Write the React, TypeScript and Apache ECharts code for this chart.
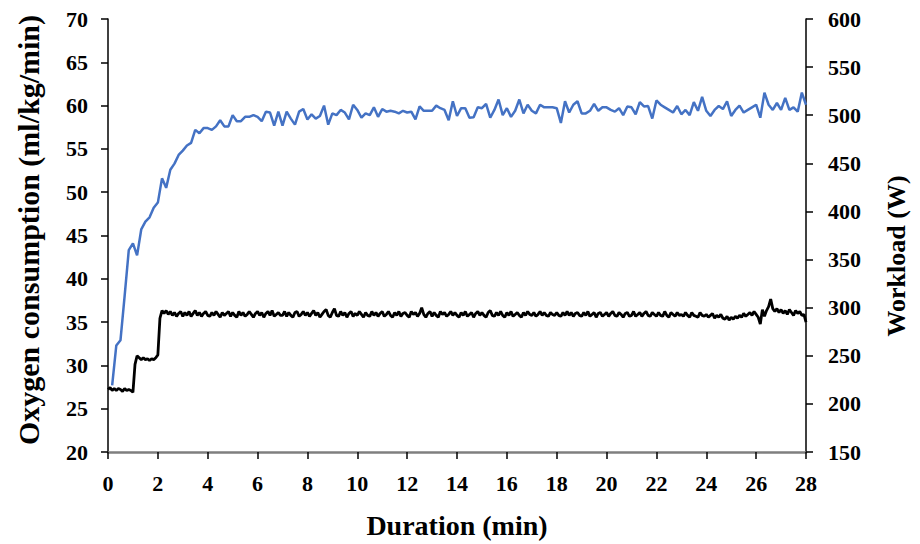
import React, { useEffect, useRef } from "react";
import * as echarts from "echarts";

// Oxygen consumption (ml/kg/min), one sample every 10 s starting at 10 s
const O2_STEP_SEC = 10;
const oxygen = [
  27.7, 32.3, 32.9, 38.0, 43.3, 44.1, 42.7, 45.7, 46.6, 47.1, 48.2, 48.8,
  51.6, 50.5, 52.6, 53.3, 54.3, 54.8, 55.4, 55.7, 57.2, 56.8, 57.4, 57.4,
  57.2, 57.6, 58.3, 57.6, 57.6, 58.9, 58.2, 58.2, 58.7, 58.7, 58.9, 58.7,
  58.2, 59.3, 59.2, 57.7, 59.3, 57.7, 59.3, 58.5, 57.8, 59.3, 59.6, 58.4,
  59.0, 58.5, 58.8, 60.0, 57.8, 59.1, 58.9, 59.5, 59.2, 58.4, 60.1, 59.5,
  58.6, 59.1, 58.9, 59.8, 58.7, 59.6, 59.3, 59.4, 59.3, 59.1, 59.4, 59.2,
  59.3, 58.4, 59.9, 59.4, 59.4, 59.4, 60.0, 59.7, 59.5, 58.3, 60.5, 58.8,
  59.7, 59.7, 58.6, 58.65, 59.8, 59.7, 60.2, 58.6, 59.5, 60.7, 58.9, 59.7,
  58.7, 59.4, 60.7, 59.1, 60.1, 59.4, 59.1, 60.1, 59.8, 59.8, 59.8, 59.7,
  58.0, 60.5, 59.2, 60.1, 60.5, 59.1, 59.1, 59.4, 60.2, 59.4, 59.8, 59.8,
  59.5, 59.3, 59.7, 58.9, 59.9, 59.8, 59.0, 60.4, 59.9, 59.95, 58.5, 60.6,
  60.1, 59.8, 59.5, 59.2, 59.95, 59.0, 59.5, 58.9, 60.4, 59.4, 61.0, 59.4,
  58.8, 59.5, 59.95, 59.6, 60.5, 58.8, 59.5, 60.0, 59.2, 59.5, 59.8, 60.1,
  58.6, 61.5, 60.1, 59.5, 60.3, 59.5, 60.9, 59.5, 59.8, 59.3, 61.5, 60.1,
];

// Workload (W), one sample every 5 s starting at 0 s (12 samples per row = 1 min)
const WORK_STEP_SEC = 5;
const workload = [
  215, 217, 214, 216, 214, 216, 215, 213, 216, 214, 215, 214,
  212, 241, 250, 248, 246, 248, 246, 247, 245, 247, 246, 248,
  251, 289, 297, 294, 297, 293, 296, 292, 295, 291, 294, 296,
  291, 295, 292, 296, 291, 294, 297, 292, 295, 291, 294, 296,
  292, 291, 295, 292, 296, 293, 290, 295, 292, 294, 296, 291,
  295, 292, 290, 296, 292, 295, 291, 293, 296, 293, 290, 294,
  296, 292, 295, 290, 294, 296, 292, 297, 291, 293, 295, 292,
  292, 296, 291, 295, 292, 290, 295, 296, 291, 293, 296, 292,
  295, 291, 294, 297, 292, 295, 290, 293, 296, 298, 292, 290,
  295, 299, 292, 291, 296, 292, 295, 290, 294, 296, 291, 294,
  292, 296, 293, 290, 295, 292, 291, 296, 292, 295, 291, 294,
  296, 291, 293, 296, 292, 290, 295, 292, 296, 291, 294, 295,
  292, 290, 296, 293, 295, 291, 294, 300, 293, 290, 294, 296,
  291, 295, 292, 290, 296, 293, 295, 291, 293, 296, 292, 295,
  292, 290, 295, 292, 296, 291, 293, 295, 290, 294, 296, 292,
  295, 292, 290, 295, 297, 292, 291, 295, 292, 296, 292, 290,
  295, 292, 296, 291, 293, 295, 292, 290, 295, 292, 296, 293,
  292, 295, 291, 293, 296, 292, 295, 292, 291, 295, 293, 292,
  295, 292, 291, 295, 292, 296, 292, 295, 291, 294, 295, 292,
  291, 295, 292, 296, 291, 293, 295, 290, 294, 295, 291, 293,
  295, 291, 294, 296, 292, 291, 295, 293, 290, 294, 295, 291,
  292, 296, 291, 293, 295, 291, 294, 296, 292, 291, 295, 293,
  291, 295, 292, 291, 296, 292, 290, 295, 293, 291, 295, 292,
  293, 291, 295, 292, 290, 295, 292, 291, 290, 295, 292, 291,
  293, 290, 292, 294, 289, 292, 290, 293, 289, 288, 291, 287,
  290, 288, 291, 289, 292, 290, 294, 291, 293, 295, 292, 296,
  293, 290, 283, 298, 291, 297, 301, 309, 299, 296, 299, 295,
  298, 294, 297, 293, 298, 295, 292, 297, 294, 296, 292, 293,
  285,
];

const xTicks = { min: 0, max: 28, interval: 2 };
const leftTicks = { min: 20, max: 70, interval: 5 };
const rightTicks = { min: 150, max: 600, interval: 50 };

const FONT = "'Liberation Serif', 'Times New Roman', serif";

export default function App() {
  const ref = useRef<HTMLDivElement>(null);

  useEffect(() => {
    if (!ref.current) return;
    document.body.style.margin = "0";
    const chart = echarts.init(ref.current, null, { renderer: "svg", width: 920, height: 544 });

    const o2Data = oxygen.map((v, i) => [((i + 1) * O2_STEP_SEC) / 60, v]);
    const wData = workload.map((v, i) => [(i * WORK_STEP_SEC) / 60, v]);

    const labelStyle = {
      color: "#000",
      fontFamily: FONT,
      fontWeight: "bold" as const,
      fontSize: 22,
    };

    chart.setOption({
      animation: false,
      backgroundColor: "#fff",
      grid: { left: 108, right: 114, top: 19, bottom: 77, containLabel: false },
      xAxis: {
        type: "value",
        min: xTicks.min,
        max: xTicks.max,
        interval: xTicks.interval,
        name: "Duration (min)",
        nameLocation: "middle",
        nameGap: 59,
        nameTextStyle: { ...labelStyle, fontSize: 28 },
        axisLine: { show: true, lineStyle: { color: "#7f7f7f", width: 2.5 } },
        axisTick: { show: true, length: 7, lineStyle: { color: "#000", width: 1.5 } },
        axisLabel: { ...labelStyle, margin: 20 },
        splitLine: { show: false },
      },
      yAxis: [
        {
          type: "value",
          min: leftTicks.min,
          max: leftTicks.max,
          interval: leftTicks.interval,
          position: "left",
          axisLine: { show: true, lineStyle: { color: "#000", width: 1.5 } },
          axisTick: { show: true, length: 7, lineStyle: { color: "#000", width: 1.5 } },
          axisLabel: { ...labelStyle, margin: 20 },
          splitLine: { show: false },
        },
        {
          type: "value",
          min: rightTicks.min,
          max: rightTicks.max,
          interval: rightTicks.interval,
          position: "right",
          axisLine: { show: true, lineStyle: { color: "#000", width: 1.5 } },
          axisTick: { show: true, length: 7, lineStyle: { color: "#000", width: 1.5 } },
          axisLabel: { ...labelStyle, margin: 22 },
          splitLine: { show: false },
        },
      ],
      graphic: [
        {
          type: "text",
          x: 28,
          y: 230,
          rotation: Math.PI / 2,
          style: {
            text: "Oxygen consumption (ml/kg/min)",
            fill: "#000",
            font: `bold 30px ${FONT}`,
            textAlign: "center",
            textVerticalAlign: "middle",
          },
        },
        {
          type: "text",
          x: 896,
          y: 256,
          rotation: Math.PI / 2,
          style: {
            text: "Workload (W)",
            fill: "#000",
            font: `bold 26px ${FONT}`,
            textAlign: "center",
            textVerticalAlign: "middle",
          },
        },
      ],
      series: [
        {
          name: "Workload",
          type: "line",
          yAxisIndex: 1,
          data: wData,
          showSymbol: false,
          symbol: "none",
          lineStyle: { color: "#000", width: 2.8 },
          z: 2,
        },
        {
          name: "Oxygen consumption",
          type: "line",
          yAxisIndex: 0,
          data: o2Data,
          showSymbol: false,
          symbol: "none",
          lineStyle: { color: "#4472C4", width: 2.5 },
          z: 3,
        },
      ],
    });

    return () => chart.dispose();
  }, []);

  return (
    <div
      ref={ref}
      style={{ position: "absolute", left: 0, top: 0, width: 920, height: 544 }}
    />
  );
}
